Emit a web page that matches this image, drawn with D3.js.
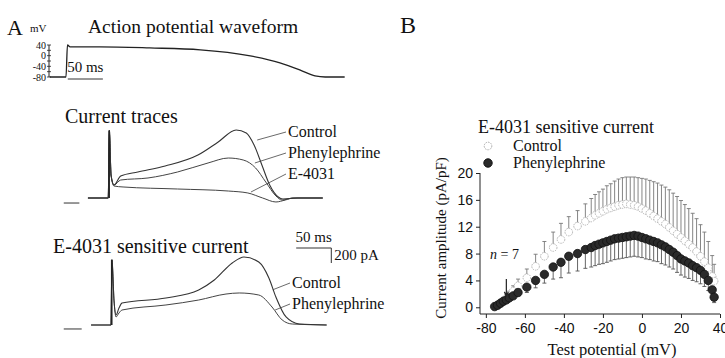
<!DOCTYPE html>
<html lang="en">
<head>
<meta charset="utf-8">
<title>E-4031 sensitive current</title>
<script src="https://cdn.jsdelivr.net/npm/d3@7"></script>
<style>
  body { margin: 0; background: #fff; }
  svg { display: block; }
  .serif { font-family: "Liberation Serif", "Times New Roman", serif; fill: #111; }
  .axis text { font-family: "Liberation Sans", Arial, sans-serif; font-size: 14px; fill: #111; }
  .axis path, .axis line { stroke: #222; }
</style>
</head>
<body>
<script>
// ---------- Panel A: action potential (time in ms, mV) ----------
var apTime    = [-22, -1.3, 0.6, 4, 42, 106, 171, 235, 273, 299, 318, 331, 356];
var apVoltage = [-80, -80, 40, 33, 33, 29, 22, -1, -27, -54, -76, -80, -80];
var apTicks   = [40, 0, -40, -80];

// ---------- Panel A: current traces (ms, pA) ----------
var ctrlTime = [-27, -1, 0.5, 2.6, 6.4, 15, 37, 72, 114, 140, 163, 176, 186, 196, 206, 217, 223, 242, 274];
var ctrlCur  = [0, 0, 900, 307, 173, 293, 347, 427, 573, 747, 907, 867, 707, 440, 173, 13, -13, 0, 0];
var pheTime  = [-27, -1, 0.5, 2.6, 6.4, 15, 50, 88, 127, 153, 172, 188, 201, 214, 222, 236, 274];
var pheCur   = [0, 0, 900, 307, 173, 240, 267, 347, 467, 533, 507, 400, 213, 27, -27, 0, 0];
var e4031Time = [-27, -1, 0.5, 2.6, 6.4, 18, 88, 153, 178, 197, 214, 226, 236, 274];
var e4031Cur  = [0, 0, 900, 307, 160, 147, 120, 93, 67, 0, -53, -27, 0, 0];
var holdTime = [-58, -38];
var holdCur  = [-67, -67];

// ---------- Panel A: E-4031 sensitive current (ms, pA) ----------
var sensCtrlTime = [-23, 2.5, 3.8, 6.4, 9, 12.8, 16.7, 73, 115, 135, 158, 173, 192, 205, 214, 227, 244, 279];
var sensCtrlCur  = [0, 0, 870, 330, 133, 227, 293, 360, 467, 600, 827, 907, 840, 627, 373, 107, 13, 0];
var sensPheTime  = [-23, 2.5, 3.8, 6.4, 9, 12.8, 16.7, 73, 115, 150, 167, 192, 209, 222, 235, 279];
var sensPheCur   = [0, 0, 870, 330, 107, 160, 200, 267, 333, 413, 427, 400, 240, 67, 13, 0];
var sensHoldTime = [-58, -35];
var sensHoldCur  = [-53, -53];

// ---------- Panel B: I-V relation (mV, pA/pF) ----------
var testPotential = [-75.5, -74, -72.5, -71, -69.5, -68, -66, -63.5, -59, -54.5, -50, -45.5, -41.5, -37.5, -33, -29,
  -26, -24, -22, -20, -18, -16, -14, -12, -10, -8, -6, -4, -2, 0, 2, 4, 6, 8, 10, 12, 14, 16, 18, 20,
  22, 24, 26, 28, 30, 32, 34, 36, 37];
var controlMean = [0.2, 0.4, 0.7, 1.0, 1.4, 1.8, 2.4, 3.2, 4.4, 6.1, 7.6, 8.9, 10.1, 11.2, 12.1, 12.8,
  13.3, 13.7, 14.0, 14.3, 14.6, 14.8, 15.0, 15.2, 15.3, 15.4, 15.3, 15.2, 15.0, 14.7, 14.4, 14.0, 13.6, 13.2, 12.8, 12.4, 11.9, 11.4, 10.9, 10.4,
  9.9, 9.4, 8.9, 8.3, 7.6, 6.8, 5.9, 4.6, 3.9];
var controlSem = [0.1, 0.2, 0.3, 0.4, 0.5, 0.6, 0.8, 1.0, 1.3, 1.8, 2.2, 2.3, 2.4, 2.3, 2.3, 2.6,
  2.9, 3.1, 3.2, 3.3, 3.5, 3.6, 3.8, 3.9, 4.0, 4.0, 4.1, 4.2, 4.3, 4.5, 4.7, 4.9, 5.1, 5.3, 5.4, 5.5, 5.6, 5.6, 5.6, 5.5,
  5.4, 5.3, 5.1, 4.9, 4.7, 4.4, 3.9, 3.1, 2.5];
var pheMean = [0.1, 0.3, 0.6, 0.9, 1.1, 1.4, 1.7, 2.2, 3.0, 4.0, 4.9, 6.0, 6.7, 7.6, 8.0, 8.6,
  8.9, 9.2, 9.4, 9.6, 9.8, 10.0, 10.2, 10.3, 10.4, 10.5, 10.6, 10.7, 10.6, 10.4, 10.2, 10.0, 9.8, 9.6, 9.3, 9.0, 8.6, 8.2, 7.7, 7.2,
  6.9, 6.6, 6.2, 5.9, 5.5, 4.9, 4.0, 2.6, 1.5];
var pheSem = [0.1, 0.1, 0.2, 0.2, 0.3, 0.3, 0.4, 0.5, 0.8, 1.1, 1.3, 1.8, 2.3, 2.5, 2.6, 2.8,
  2.9, 3.0, 3.0, 3.1, 3.1, 3.1, 3.1, 3.1, 3.1, 3.1, 3.1, 3.1, 3.1, 3.0, 3.0, 2.9, 2.9, 2.8, 2.8, 2.7, 2.6, 2.5, 2.5, 2.4,
  2.4, 2.3, 2.2, 2.1, 2.0, 1.8, 1.5, 1.2, 0.8];
var xTicks = [-80, -60, -40, -20, 0, 20, 40];
var yTicks = [0, 4, 8, 12, 16, 20];

var w = 725, h = 358;
var svg = d3.select("body").append("svg").attr("width", w).attr("height", h);

// time scales for panel A (AP drawn on its own offset), vertical scales per row
var tAP    = d3.scaleLinear().domain([0, 100]).range([67, 145]);
var tScale = d3.scaleLinear().domain([0, 100]).range([109, 187]);
var yAP   = d3.scaleLinear().domain([-80, 40]).range([77, 45]);
var yCur  = d3.scaleLinear().domain([0, 1000]).range([198, 123]);
var ySens = d3.scaleLinear().domain([0, 1000]).range([325, 250]);

function trace(times, vals, xS, yS, color, width) {
  var pts = d3.zip(times, vals);
  var line = d3.line()
    .x(function(d) { return xS(d[0]); })
    .y(function(d) { return yS(d[1]); })
    .curve(d3.curveMonotoneX);
  svg.append("path")
    .attr("d", line(pts))
    .attr("fill", "none")
    .attr("stroke", color)
    .attr("stroke-width", width);
}

function label(x, y, txt, size) {
  return svg.append("text").attr("class", "serif")
    .attr("x", x).attr("y", y)
    .style("font-size", size + "px")
    .text(txt);
}

// ----- headings
label(7, 35, "A", 22);
label(30, 32, "mV", 11);
label(88, 33, "Action potential waveform", 19.5);
label(65, 123, "Current traces", 20);
label(53, 253, "E-4031 sensitive current", 20);

// ----- AP voltage scale bar
var apBarX = 49;
svg.append("line").attr("x1", apBarX).attr("x2", apBarX)
  .attr("y1", yAP(40)).attr("y2", yAP(-80))
  .attr("stroke", "#222").attr("stroke-width", 1);
[40, 20, 0, -20, -40, -60, -80].forEach(function(v) {
  svg.append("line").attr("x1", apBarX - 2).attr("x2", apBarX + 2)
    .attr("y1", yAP(v)).attr("y2", yAP(v))
    .attr("stroke", "#222").attr("stroke-width", 0.8);
});
svg.selectAll("text.apTick").data(apTicks).enter().append("text")
  .attr("class", "serif apTick")
  .attr("x", apBarX - 3)
  .attr("y", function(d) { return yAP(d) + 3.5; })
  .attr("text-anchor", "end")
  .style("font-size", "10px")
  .text(function(d) { return d; });

// AP trace
trace(apTime, apVoltage, tAP, yAP, "#222", 1.3);

// 50 ms bar under AP
svg.append("line").attr("x1", tAP(1)).attr("x2", tAP(46))
  .attr("y1", 79).attr("y2", 79).attr("stroke", "#333").attr("stroke-width", 1);
label(tAP(23.5), 72, "50 ms", 15).attr("text-anchor", "middle");

// ----- current traces
trace(holdTime, holdCur, tScale, yCur, "#333", 1);
trace(e4031Time, e4031Cur, tScale, yCur, "#444", 1);
trace(pheTime, pheCur, tScale, yCur, "#444", 1);
trace(ctrlTime, ctrlCur, tScale, yCur, "#333", 1.1);
svg.append("line").attr("x1", tScale(0.2)).attr("x2", tScale(0.2))
  .attr("y1", yCur(0)).attr("y2", yCur(900))
  .attr("stroke", "#222").attr("stroke-width", 1.6);

var traceLabels = [
  {txt: "Control", lx: 288, ly: 137, t: 190, v: 773},
  {txt: "Phenylephrine", lx: 288, ly: 158, t: 187, v: 467},
  {txt: "E-4031", lx: 288, ly: 179, t: 182, v: 80}
];
traceLabels.forEach(function(d) {
  svg.append("line").attr("x1", d.lx - 2).attr("y1", d.ly - 5)
    .attr("x2", tScale(d.t)).attr("y2", yCur(d.v))
    .attr("stroke", "#444").attr("stroke-width", 0.8);
  label(d.lx, d.ly, d.txt, 16);
});

// ----- E-4031 sensitive current
trace(sensHoldTime, sensHoldCur, tScale, ySens, "#333", 1);
trace(sensPheTime, sensPheCur, tScale, ySens, "#444", 1);
trace(sensCtrlTime, sensCtrlCur, tScale, ySens, "#333", 1.1);
svg.append("line").attr("x1", tScale(3.5)).attr("x2", tScale(3.5))
  .attr("y1", ySens(0)).attr("y2", ySens(870))
  .attr("stroke", "#222").attr("stroke-width", 1.6);

var sensLabels = [
  {txt: "Control", lx: 292, ly: 288, t: 210, v: 470},
  {txt: "Phenylephrine", lx: 292, ly: 309, t: 213, v: 200}
];
sensLabels.forEach(function(d) {
  svg.append("line").attr("x1", d.lx - 2).attr("y1", d.ly - 5)
    .attr("x2", tScale(d.t)).attr("y2", ySens(d.v))
    .attr("stroke", "#444").attr("stroke-width", 0.8);
  label(d.lx, d.ly, d.txt, 16);
});

// scale bar 50 ms / 200 pA
var sbT0 = 240, sbT1 = 285, sbY = 248;
svg.append("path")
  .attr("d", "M" + tScale(sbT0) + "," + sbY + "H" + tScale(sbT1) +
             "V" + (sbY + (ySens(0) - ySens(200))))
  .attr("fill", "none").attr("stroke", "#333").attr("stroke-width", 1);
label((tScale(sbT0) + tScale(sbT1)) / 2, 242, "50 ms", 15).attr("text-anchor", "middle");
label(tScale(sbT1) + 3, 260, "200 pA", 15);

// ---------- Panel B ----------
label(400, 33, "B", 24);

var xB = d3.scaleLinear().domain([-83, 40]).range([480, 720]);
var yB = d3.scaleLinear().domain([-1, 20]).range([314, 173]);

var gx = svg.append("g").attr("class", "axis").attr("transform", "translate(0," + yB(-1) + ")");
gx.call(d3.axisBottom(xB).tickValues(d3.range(-80, 41, 10)).tickSize(2).tickFormat(""));
gx.call(d3.axisBottom(xB).tickValues(xTicks).tickSize(4).tickSizeOuter(0).tickPadding(5)
  .tickFormat(function(d) { return d; }));
gx.select(".domain").attr("d", "M" + xB(-83) + ",0H" + xB(40));

var gy = svg.append("g").attr("class", "axis").attr("transform", "translate(" + xB(-83) + ",0)");
gy.call(d3.axisLeft(yB).tickValues(d3.range(0, 21, 1)).tickSize(2).tickFormat(""));
gy.call(d3.axisLeft(yB).tickValues(yTicks).tickSize(4).tickSizeOuter(0).tickPadding(3));
gy.select(".domain").attr("d", "M0," + yB(-1) + "V" + yB(20));

label(612, 355, "Test potential (mV)", 16.5).attr("text-anchor", "middle");
svg.append("text").attr("class", "serif")
  .attr("transform", "translate(446,238) rotate(-90)")
  .attr("text-anchor", "middle")
  .style("font-size", "15px")
  .text("Current amplitude (pA/pF)");

var rows = testPotential.map(function(v, i) {
  return {v: v, c: controlMean[i], cs: controlSem[i], p: pheMean[i], ps: pheSem[i]};
});

// control error bars (upward)
var ctrlBars = svg.append("g").attr("stroke", "#777").attr("stroke-width", 0.9);
rows.forEach(function(d) {
  var x = xB(d.v), y0 = yB(d.c), y1 = yB(d.c + d.cs);
  ctrlBars.append("line").attr("x1", x).attr("x2", x).attr("y1", y0).attr("y2", y1);
  ctrlBars.append("line").attr("x1", x - 2).attr("x2", x + 2).attr("y1", y1).attr("y2", y1);
});
svg.append("g").selectAll("circle").data(rows).enter().append("circle")
  .attr("cx", function(d) { return xB(d.v); })
  .attr("cy", function(d) { return yB(d.c); })
  .attr("r", 3.8)
  .attr("fill", "#fff")
  .attr("stroke", "#aaa")
  .attr("stroke-width", 0.9)
  .attr("stroke-dasharray", "1.5,1");

// phenylephrine error bars (downward)
var pheBars = svg.append("g").attr("stroke", "#555").attr("stroke-width", 0.9);
rows.forEach(function(d) {
  var x = xB(d.v), y0 = yB(d.p), y1 = yB(d.p - d.ps);
  pheBars.append("line").attr("x1", x).attr("x2", x).attr("y1", y0).attr("y2", y1);
  pheBars.append("line").attr("x1", x - 2).attr("x2", x + 2).attr("y1", y1).attr("y2", y1);
});
svg.append("g").selectAll("circle").data(rows).enter().append("circle")
  .attr("cx", function(d) { return xB(d.v); })
  .attr("cy", function(d) { return yB(d.p); })
  .attr("r", 4.2)
  .attr("fill", "#2a2a2a")
  .attr("stroke", "#111")
  .attr("stroke-width", 0.8);

// arrow at the start of activation
var ax = xB(-69.5), ayTop = yB(4.2), ayBot = yB(1.7);
svg.append("path")
  .attr("d", "M" + ax + "," + ayTop + "V" + ayBot + "M" + (ax - 2) + "," + (ayBot - 4) +
             "L" + ax + "," + ayBot + "L" + (ax + 2) + "," + (ayBot - 4))
  .attr("fill", "none").attr("stroke", "#222").attr("stroke-width", 1.2);

// n = 7
var nt = svg.append("text").attr("class", "serif").attr("x", 490).attr("y", 259).style("font-size", "14px");
nt.append("tspan").style("font-style", "italic").text("n");
nt.append("tspan").text(" = 7");

// legend
label(478, 133, "E-4031 sensitive current", 18);
svg.append("circle").attr("cx", 488).attr("cy", 146).attr("r", 3.8)
  .attr("fill", "#fff").attr("stroke", "#aaa").attr("stroke-dasharray", "1.5,1");
label(513, 151, "Control", 16);
svg.append("circle").attr("cx", 488).attr("cy", 163).attr("r", 4.2)
  .attr("fill", "#2a2a2a").attr("stroke", "#111");
label(513, 168, "Phenylephrine", 16);
</script>
</body>
</html>
